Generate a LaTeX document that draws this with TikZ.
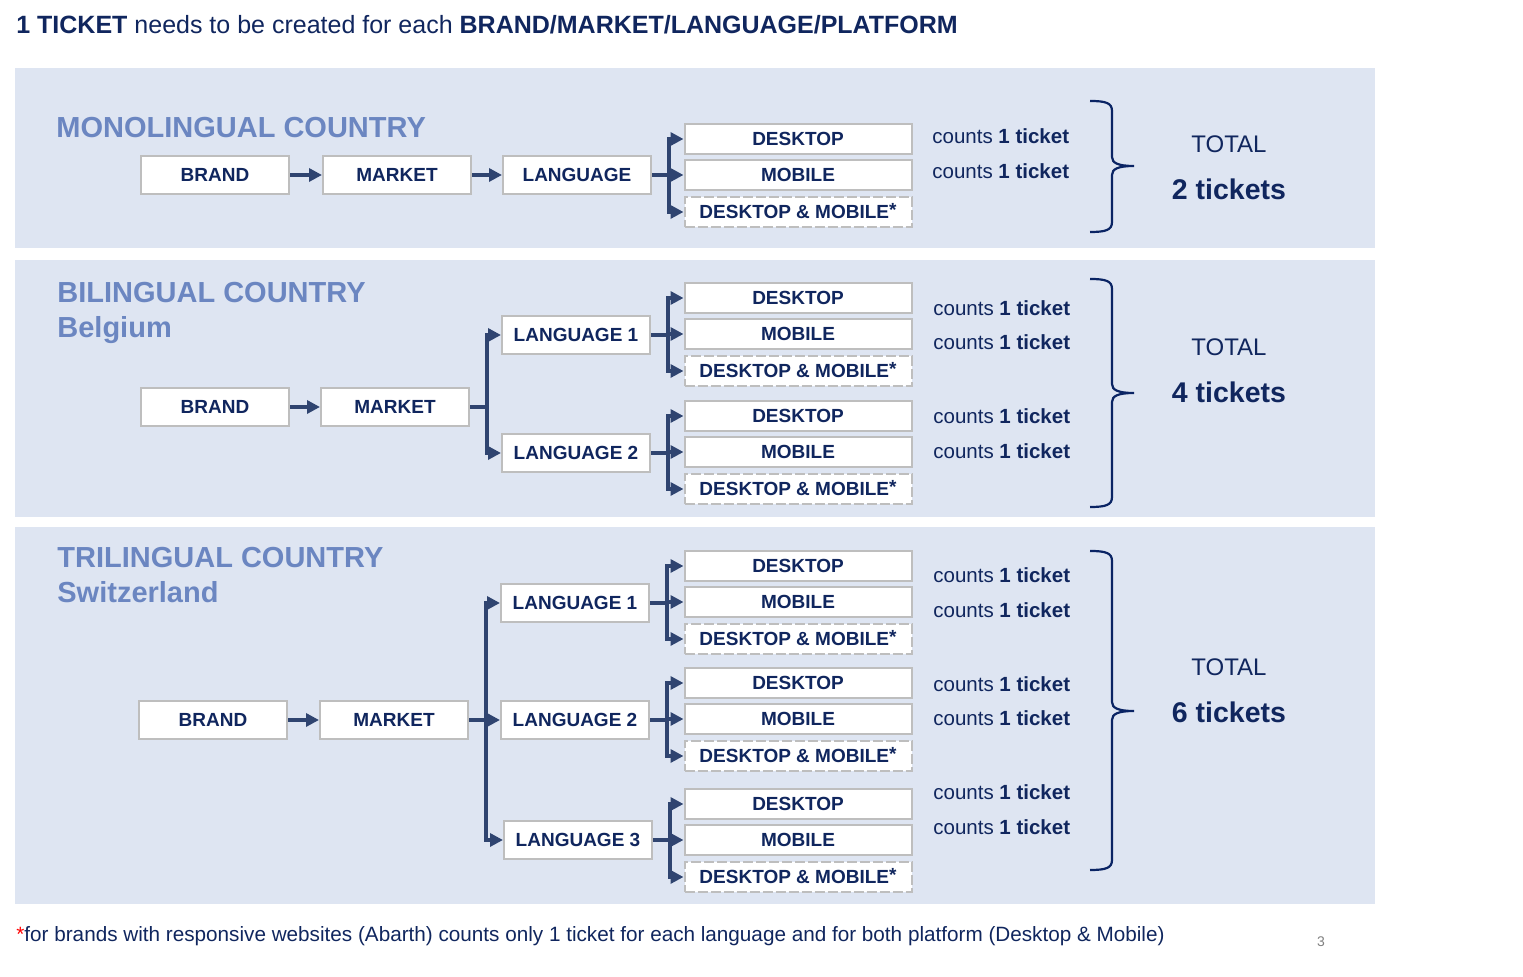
\documentclass[tikz,border=0pt]{standalone}
\usepackage{fontspec}
\setmainfont{Liberation Sans}
\usepackage{tikz}
\usetikzlibrary{arrows.meta}

\definecolor{navy}{RGB}{16,38,94}
\definecolor{panelbg}{RGB}{222,229,242}
\definecolor{headblue}{RGB}{107,134,193}
\definecolor{arrowblue}{RGB}{47,68,112}
\definecolor{boxgray}{RGB}{190,190,190}
\definecolor{bracenavy}{RGB}{10,36,100}

\begin{document}
\begin{tikzpicture}[x=0.5pt,y=-0.5pt,
	box/.style={draw=boxgray,line width=1pt,fill=white,minimum width=74pt,minimum height=19pt,inner sep=0pt,text height=6.8pt,text depth=0pt,text=navy,font=\fontsize{9.5}{11}\selectfont\bfseries},
	platbox/.style={box,minimum width=113.5pt,minimum height=15pt},
	dmbox/.style={platbox,dash pattern=on 5pt off 1.5pt},
	arr/.style={draw=arrowblue,line width=1.7pt,-{Triangle[length=6.5pt,width=6.5pt]}},
	heading/.style={anchor=base west,inner sep=0pt,text=headblue,font=\fontsize{14.5}{17}\selectfont\bfseries},
	counts/.style={anchor=west,inner sep=0pt,text=navy,font=\fontsize{10.25}{12}\selectfont},
	total/.style={inner sep=0pt,text=navy,font=\fontsize{12}{14}\selectfont},
	tickets/.style={inner sep=0pt,text=navy,font=\fontsize{14.25}{16}\selectfont\bfseries}]
	\useasboundingbox (0,0) rectangle (1523,977);

	% title
	\node[anchor=base west,inner sep=0pt,text=navy,font=\fontsize{12.5}{15}\selectfont] (title) at (16,34) {\textbf{1 TICKET} needs to be created for each \textbf{BRAND/MARKET/LANGUAGE/PLATFORM}};

	% panels
	\fill[panelbg] (15,68) rectangle (1375,248);
	\fill[panelbg] (15,260) rectangle (1375,517);
	\fill[panelbg] (15,527) rectangle (1375,904);

	% monolingual
	\node[heading] (headA) at (56,137.5) {MONOLINGUAL COUNTRY};
	\node[box] (brandA) at (215,175) {BRAND};
	\node[box] (marketA) at (397,175) {MARKET};
	\node[box] (langA) at (577,175) {LANGUAGE};
	\draw[arr] (brandA) -- (marketA);
	\draw[arr] (marketA) -- (langA);

	% bilingual
	\node[heading] (headB) at (57,302.5) {BILINGUAL COUNTRY};
	\node[heading] (cityB) at (57,337.5) {Belgium};
	\node[box] (brandB) at (215,407) {BRAND};
	\node[box] (marketB) at (395,407) {MARKET};
	\node[box] (langBa) at (576,335) {LANGUAGE 1};
	\node[box] (langBb) at (576,453) {LANGUAGE 2};
	\draw[arr] (brandB) -- (marketB);
	\draw[arr] (marketB.east) -- ++(17,0) |- (langBa.west);
	\draw[arr] (marketB.east) -- ++(17,0) |- (langBb.west);

	% trilingual
	\node[heading] (headC) at (57,567.5) {TRILINGUAL COUNTRY};
	\node[heading] (cityC) at (57,602.5) {Switzerland};
	\node[box] (brandC) at (213,720) {BRAND};
	\node[box] (marketC) at (394,720) {MARKET};
	\node[box] (langCa) at (575,603) {LANGUAGE 1};
	\node[box] (langCb) at (575,720) {LANGUAGE 2};
	\node[box] (langCc) at (578,840) {LANGUAGE 3};
	\draw[arr] (brandC) -- (marketC);
	\draw[arr] (marketC.east) -- ++(17,0) |- (langCa.west);
	\draw[arr] (marketC) -- (langCb);
	\draw[arr] (marketC.east) -- ++(17,0) |- (langCc.west);

	% platforms
	\foreach \n/\y in {A/139,Ba/298,Bb/416,Ca/566,Cb/683,Cc/804} {
		\node[platbox] (desk\n) at (798,\y) {DESKTOP};
		\node[platbox] (mob\n) at (798,\y+36) {MOBILE};
		\node[dmbox] (dm\n) at (798,\y+73) {DESKTOP \& MOBILE\raisebox{1.2pt}{*}};
		\draw[arr] (lang\n.east) -- ++(17,0) |- (desk\n.west);
		\draw[arr] (lang\n.east) -- ++(17,0) |- (mob\n.west);
		\draw[arr] (lang\n.east) -- ++(17,0) |- (dm\n.west);
	}

	% counts
	\foreach \x/\y in {932/136,932/171,933/308,933/342,933/416,933/451,933/575,933/610,933/684,933/718,933/792,933/827}
		\node[counts] (cnt\y) at (\x,\y) {counts \textbf{1 ticket}};

	% braces
	\foreach \yt/\ym/\yb in {101/166/232,279/393/507,551/711/870}
		\draw[bracenavy,line width=1.1pt] (1090,\yt) .. controls (1106,\yt) and (1112,\yt+2) .. (1112,\yt+10) -- (1112,\ym-9) .. controls (1112,\ym-3) and (1118,\ym) .. (1134,\ym) .. controls (1118,\ym) and (1112,\ym+3) .. (1112,\ym+9) -- (1112,\yb-10) .. controls (1112,\yb-2) and (1106,\yb) .. (1090,\yb);

	% totals
	\node[total] (totA) at (1229,144) {TOTAL};
	\node[tickets] (sumA) at (1229,189) {2 tickets};
	\node[total] (totB) at (1229,347) {TOTAL};
	\node[tickets] (sumB) at (1229,392) {4 tickets};
	\node[total] (totC) at (1229,667) {TOTAL};
	\node[tickets] (sumC) at (1229,712) {6 tickets};

	% footnote
	\node[anchor=base west,inner sep=0pt,text=navy,font=\fontsize{10.35}{12}\selectfont] (note) at (16,942) {\textcolor{red}{*}for brands with responsive websites (Abarth) counts only 1 ticket for each language and for both platform (Desktop \& Mobile)};
	\node[text=gray,font=\fontsize{7}{8}\selectfont,inner sep=0pt] (page) at (1321,942) {3};
\end{tikzpicture}
\end{document}
